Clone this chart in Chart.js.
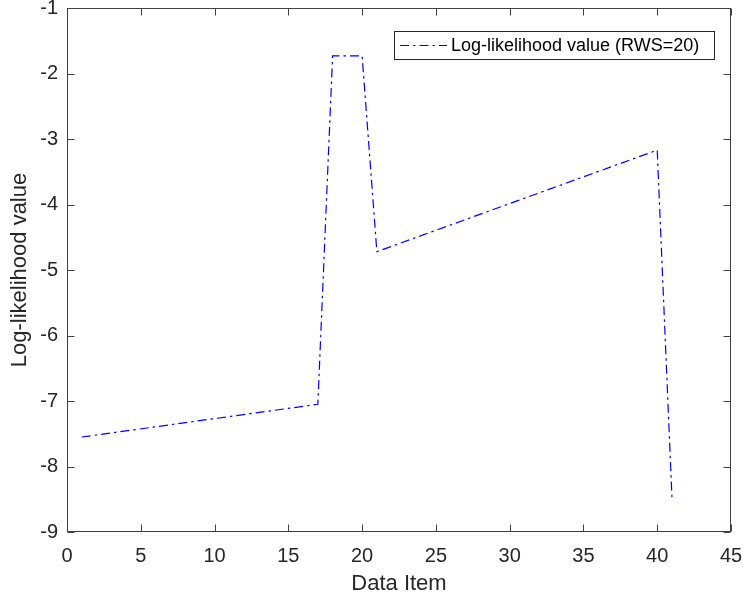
<!DOCTYPE html>
<html>
<head>
<meta charset="utf-8">
<script src="https://cdn.jsdelivr.net/npm/chart.js@4"></script>
<style>
html,body{margin:0;padding:0;background:#fff;}
#wrap{width:743px;height:600px;}
</style>
</head>
<body>
<div id="wrap"><canvas id="c" width="743" height="600"></canvas></div>
<script>
const xValues = [1, 17, 18, 20, 21, 40, 41];
const yValues = [-7.55, -7.05, -1.73, -1.73, -4.72, -3.17, -8.48];
const seriesLabel = 'Log-likelihood value (RWS=20)';
const xTicks = [0, 5, 10, 15, 20, 25, 30, 35, 40, 45];
const yTicks = [-9, -8, -7, -6, -5, -4, -3, -2, -1];
const xTitle = 'Data Item';
const yTitle = 'Log-likelihood value';

const FONT = '"Liberation Sans", Arial, sans-serif';
const AXIS_COLOR = '#404040';
const TEXT_COLOR = '#262626';
const DASH = [9, 4, 2.5, 4];

const boxPlugin = {
  id: 'matlabBox',
  afterDatasetsDraw(chart) {
    const {ctx, chartArea: a, scales} = chart;
    ctx.save();
    ctx.strokeStyle = AXIS_COLOR;
    ctx.lineWidth = 1;
    ctx.setLineDash([]);
    const L = Math.round(a.left) + 0.5, R = Math.round(a.right) - 0.5;
    const T = Math.round(a.top) + 0.5, B = Math.round(a.bottom) - 0.5;
    ctx.strokeRect(L, T, R - L, B - T);
    const tl = 7;
    ctx.beginPath();
    xTicks.forEach(v => {
      const px = Math.round(scales.x.getPixelForValue(v)) + 0.5;
      ctx.moveTo(px, B); ctx.lineTo(px, B - tl);
      ctx.moveTo(px, T); ctx.lineTo(px, T + tl);
    });
    yTicks.forEach(v => {
      const py = Math.round(scales.y.getPixelForValue(v)) + 0.5;
      ctx.moveTo(L, py); ctx.lineTo(L + tl, py);
      ctx.moveTo(R, py); ctx.lineTo(R - tl, py);
    });
    ctx.stroke();

    // legend
    const lx0 = 394.5, lx1 = 714.5, ly0 = 31.5, ly1 = 59.5;
    ctx.fillStyle = '#fff';
    ctx.fillRect(lx0, ly0, lx1 - lx0, ly1 - ly0);
    ctx.strokeStyle = '#262626';
    ctx.strokeRect(lx0, ly0, lx1 - lx0, ly1 - ly0);
    const ds = chart.data.datasets[0];
    const cy = (ly0 + ly1) / 2;
    ctx.strokeStyle = ds.borderColor;
    ctx.lineWidth = 1;
    ctx.setLineDash(DASH);
    ctx.beginPath();
    ctx.moveTo(400, cy); ctx.lineTo(447, cy);
    ctx.stroke();
    ctx.setLineDash([]);
    ctx.fillStyle = '#000';
    ctx.font = '18px ' + FONT;
    ctx.textBaseline = 'middle';
    ctx.textAlign = 'left';
    ctx.fillText(ds.label, 451, cy + 1);
    ctx.restore();
  }
};

new Chart(document.getElementById('c'), {
  type: 'line',
  data: {
    datasets: [{
      label: seriesLabel,
      data: xValues.map((x, i) => ({x: x, y: yValues[i]})),
      borderColor: '#0000ff',
      borderWidth: 1.2,
      borderDash: DASH,
      pointRadius: 0,
      tension: 0,
      fill: false
    }]
  },
  options: {
    responsive: false,
    animation: false,
    devicePixelRatio: 1,
    layout: {padding: {top: 8, right: 12, left: 0, bottom: 0}},
    plugins: {legend: {display: false}, tooltip: {enabled: false}},
    scales: {
      x: {
        type: 'linear', min: 0, max: 45,
        grid: {display: false, drawTicks: false},
        border: {display: false},
        afterBuildTicks: s => { s.ticks = xTicks.map(v => ({value: v})); },
        afterFit: s => { s.height = 68; s.paddingLeft = 0; s.paddingRight = 0; },
        ticks: {padding: 12, color: TEXT_COLOR, font: {family: FONT, size: 20}, maxRotation: 0, autoSkip: false},
        title: {display: true, text: xTitle, color: TEXT_COLOR, font: {family: FONT, size: 22}, padding: {top: 4, bottom: 3}}
      },
      y: {
        type: 'linear', min: -9, max: -1,
        grid: {display: false, drawTicks: false},
        border: {display: false},
        afterBuildTicks: s => { s.ticks = yTicks.map(v => ({value: v})); },
        afterFit: s => { s.width = 67; s.paddingTop = 0; s.paddingBottom = 0; },
        ticks: {padding: 9, color: TEXT_COLOR, font: {family: FONT, size: 20}, autoSkip: false},
        title: {display: true, text: yTitle, color: TEXT_COLOR, font: {family: FONT, size: 22}, padding: {top: 7, bottom: 4}}
      }
    }
  },
  plugins: [boxPlugin]
});
</script>
</body>
</html>
